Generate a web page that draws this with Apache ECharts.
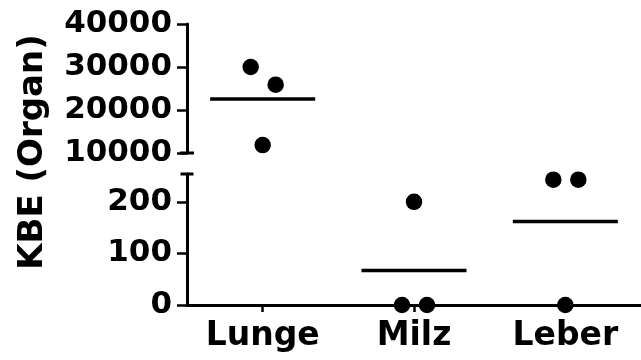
<!DOCTYPE html>
<html>
<head>
<meta charset="utf-8">
<script src="https://cdn.jsdelivr.net/npm/echarts@6/dist/echarts.min.js"></script>
<style>
html,body{margin:0;padding:0;background:#fff;}
#chart{width:641px;height:360px;}
</style>
</head>
<body>
<div id="chart"></div>
<script>
// ---- data ----
const categories = ['Lunge', 'Milz', 'Leber'];
const lungeValues = [30000, 25900, 11850];
const milzValues = [0, 0, 200];
const leberValues = [243, 243, 0];
const upperTicks = [10000, 20000, 30000, 40000];
const lowerTicks = [0, 100, 200];
const yTitle = 'KBE (Organ)';

// ---- build ----
const FONT = 'DejaVu Sans';
const groups = [lungeValues, milzValues, leberValues];
const breakAt = 10000;
const jitter = [-12, 13, 0];

function mean(a) { return a.reduce((s, v) => s + v, 0) / a.length; }

const upperPts = [], lowerPts = [], upperMeans = [], lowerMeans = [];
groups.forEach((vals, ci) => {
  vals.forEach((v, i) => {
    const item = { value: [categories[ci], v], symbolOffset: [jitter[i], 0] };
    (v >= breakAt ? upperPts : lowerPts).push(item);
  });
  const m = mean(vals);
  (m >= breakAt ? upperMeans : lowerMeans).push([categories[ci], m]);
});

const axisLineStyle = { color: '#000', width: 3 };
const tickStyle = { color: '#000', width: 2.5 };
const labelStyle = {
  color: '#000', fontFamily: FONT, fontWeight: 'bold', fontSize: 31, margin: 15,
  formatter: v => String(v)
};

const dotStyle = { type: 'scatter', symbol: 'circle', symbolSize: 16.5, itemStyle: { color: '#000', opacity: 1 }, clip: false, z: 5 };
const meanStyle = { type: 'scatter', symbol: 'rect', symbolSize: [105, 3.5], itemStyle: { color: '#000', opacity: 1 }, clip: false, z: 4 };

const option = {
  animation: false,
  backgroundColor: '#fff',
  grid: [
    { left: 187, top: 24, width: 464, height: 129 },
    { left: 187, top: 174, width: 464, height: 131 }
  ],
  xAxis: [
    { type: 'category', gridIndex: 0, data: categories, show: false, boundaryGap: true },
    {
      type: 'category', gridIndex: 1, data: categories, boundaryGap: true,
      axisLine: { show: true, lineStyle: axisLineStyle },
      axisTick: { show: true, alignWithLabel: true, length: 7, lineStyle: tickStyle },
      axisLabel: { color: '#000', fontFamily: FONT, fontWeight: 'bold', fontSize: 33, margin: 15 },
      splitLine: { show: false }
    }
  ],
  yAxis: [
    {
      type: 'value', gridIndex: 0, min: upperTicks[0], max: upperTicks[upperTicks.length - 1], interval: upperTicks[1] - upperTicks[0],
      axisLine: { show: true, lineStyle: axisLineStyle, symbol: ['rect', 'none'], symbolSize: [14, 3] },
      axisTick: { show: true, length: 10, lineStyle: tickStyle },
      axisLabel: labelStyle,
      splitLine: { show: false }
    },
    {
      type: 'value', gridIndex: 1, min: 0, max: 254,
      axisLine: { show: true, lineStyle: axisLineStyle, symbol: ['none', 'rect'], symbolSize: [13, 3] },
      axisTick: { show: true, length: 10, lineStyle: tickStyle, customValues: lowerTicks },
      axisLabel: Object.assign({}, labelStyle, { customValues: lowerTicks }),
      splitLine: { show: false }
    }
  ],
  graphic: [
    {
      type: 'text', x: 33, y: 152, rotation: Math.PI / 2,
      style: { text: yTitle, fill: '#000', font: 'bold 34px "DejaVu Sans"', align: 'center', verticalAlign: 'middle' }
    }
  ],
  series: [
    Object.assign({ xAxisIndex: 0, yAxisIndex: 0, data: upperPts }, dotStyle),
    Object.assign({ xAxisIndex: 1, yAxisIndex: 1, data: lowerPts }, dotStyle),
    Object.assign({ xAxisIndex: 0, yAxisIndex: 0, data: upperMeans }, meanStyle),
    Object.assign({ xAxisIndex: 1, yAxisIndex: 1, data: lowerMeans }, meanStyle)
  ]
};

const chart = echarts.init(document.getElementById('chart'), null, { renderer: 'canvas', width: 641, height: 360 });
chart.setOption(option);
</script>
</body>
</html>
